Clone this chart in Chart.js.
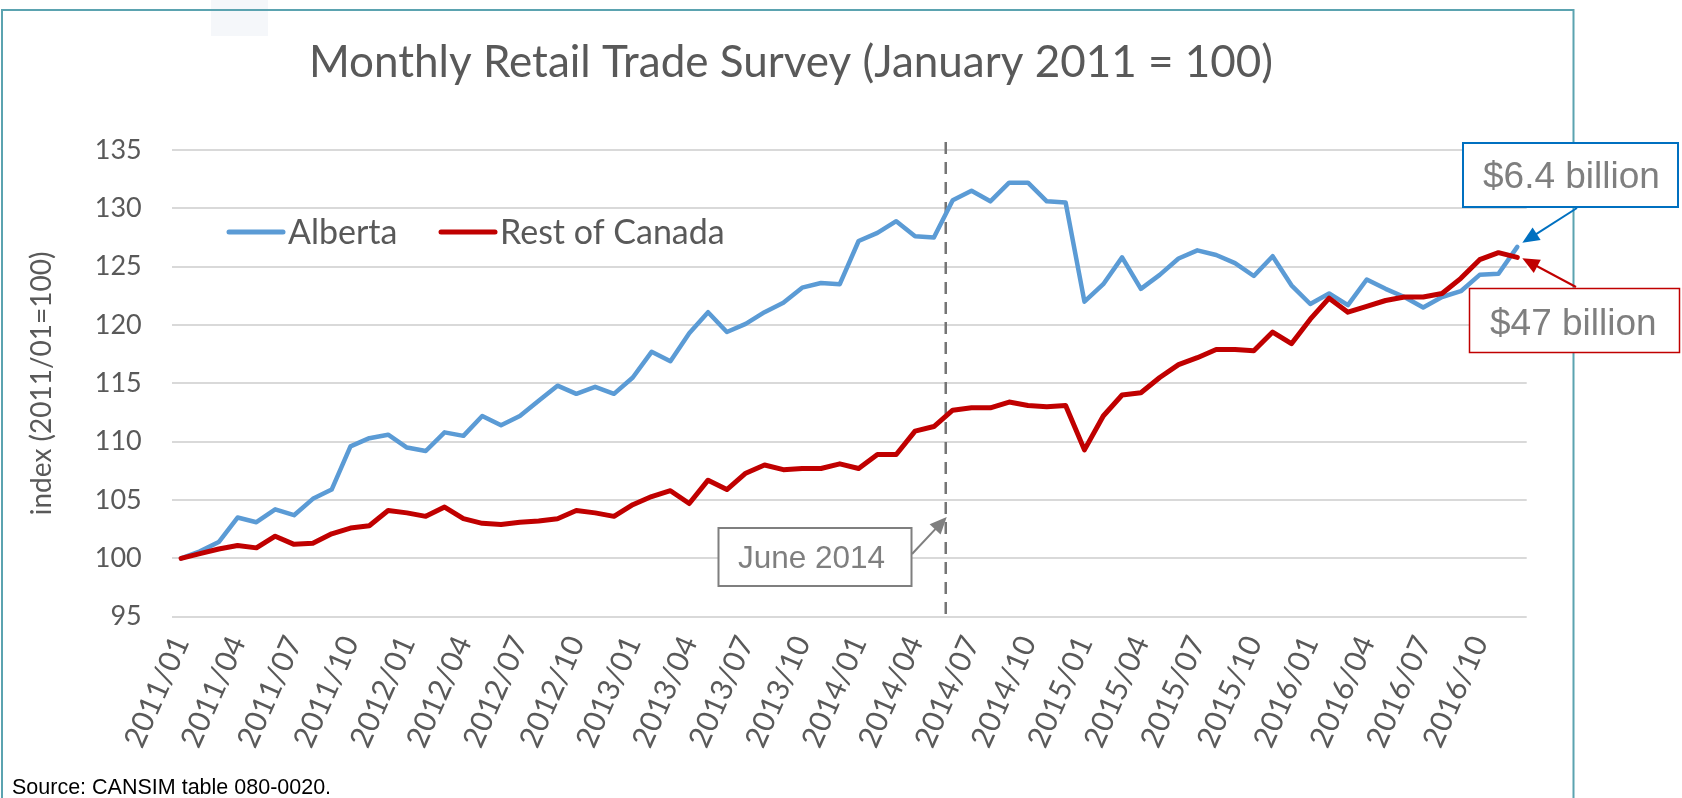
<!DOCTYPE html>
<html>
<head>
<meta charset="utf-8">
<title>Monthly Retail Trade Survey</title>
<script src="https://cdn.jsdelivr.net/npm/chart.js@4.4.1/dist/chart.umd.min.js"></script>
<style>
    html, body { margin: 0; padding: 0; background: #ffffff; }
    #wrap { width: 1682px; height: 798px; position: relative; }
</style>
</head>
<body>
<div id="wrap"><canvas id="retailChart" width="1682" height="798"></canvas></div>
<script>
// ===== DATA =====
const years = ["2011", "2012", "2013", "2014", "2015", "2016"];
const monthCodes = ["01", "02", "03", "04", "05", "06", "07", "08", "09", "10", "11", "12"];
const months = [];
years.forEach((y) => monthCodes.forEach((m) => months.push(y + "/" + m)));

// index, January 2011 = 100
const alberta = [
    100.0, 100.6, 101.4, 103.5, 103.1, 104.2, 103.7, 105.1, 105.9, 109.6, 110.3, 110.6,
    109.5, 109.2, 110.8, 110.5, 112.2, 111.4, 112.2, 113.5, 114.8, 114.1, 114.7, 114.1,
    115.5, 117.7, 116.9, 119.3, 121.1, 119.4, 120.1, 121.1, 121.9, 123.2, 123.6, 123.5,
    127.2, 127.9, 128.9, 127.6, 127.5, 130.7, 131.5, 130.6, 132.2, 132.2, 130.6, 130.5,
    122.0, 123.5, 125.8, 123.1, 124.3, 125.7, 126.4, 126.0, 125.3, 124.2, 125.9, 123.4,
    121.8, 122.7, 121.7, 123.9, 123.1, 122.4, 121.5, 122.4, 122.9, 124.3, 124.4, 126.7
];
const restOfCanada = [
    100.0, 100.4, 100.8, 101.1, 100.9, 101.9, 101.2, 101.3, 102.1, 102.6, 102.8, 104.1,
    103.9, 103.6, 104.4, 103.4, 103.0, 102.9, 103.1, 103.2, 103.4, 104.1, 103.9, 103.6,
    104.6, 105.3, 105.8, 104.7, 106.7, 105.9, 107.3, 108.0, 107.6, 107.7, 107.7, 108.1,
    107.7, 108.9, 108.9, 110.9, 111.3, 112.7, 112.9, 112.9, 113.4, 113.1, 113.0, 113.1,
    109.3, 112.2, 114.0, 114.2, 115.5, 116.6, 117.2, 117.9, 117.9, 117.8, 119.4, 118.4,
    120.5, 122.3, 121.1, 121.6, 122.1, 122.4, 122.4, 122.7, 124.0, 125.6, 126.2, 125.8
];
const yTicks = [95, 100, 105, 110, 115, 120, 125, 130, 135];
const seriesNames = ["Alberta", "Rest of Canada"];
const seriesColors = ["#5B9BD5", "#C00000"];

const TEXT_GREY = "#595959";
const NOTE_GREY = "#7F7F7F";
const JUNE_POS = 40.63; // hand-placed marker, between 2014/05 and 2014/06

// ===== HELPERS =====
function arrow(ctx, x1, y1, x2, y2, color) {
    const ang = Math.atan2(y2 - y1, x2 - x1);
    const head = 17, half = 7.5;
    ctx.save();
    ctx.strokeStyle = color;
    ctx.fillStyle = color;
    ctx.lineWidth = 2;
    ctx.beginPath();
    ctx.moveTo(x1, y1);
    ctx.lineTo(x2 - Math.cos(ang) * head * 0.8, y2 - Math.sin(ang) * head * 0.8);
    ctx.stroke();
    ctx.beginPath();
    ctx.moveTo(x2, y2);
    ctx.lineTo(x2 - Math.cos(ang) * head - Math.sin(ang) * half, y2 - Math.sin(ang) * head + Math.cos(ang) * half);
    ctx.lineTo(x2 - Math.cos(ang) * head + Math.sin(ang) * half, y2 - Math.sin(ang) * head - Math.cos(ang) * half);
    ctx.closePath();
    ctx.fill();
    ctx.restore();
}

function noteBox(ctx, x, y, w, h, border, lw, text, tx, ty, size) {
    ctx.save();
    ctx.fillStyle = "#ffffff";
    ctx.fillRect(x, y, w, h);
    ctx.strokeStyle = border;
    ctx.lineWidth = lw;
    ctx.strokeRect(x, y, w, h);
    ctx.fillStyle = NOTE_GREY;
    ctx.font = size + "px 'Liberation Sans', Arial, sans-serif";
    ctx.textAlign = "left";
    ctx.textBaseline = "alphabetic";
    ctx.fillText(text, tx, ty);
    ctx.restore();
}

function juneX(chart) {
    const xs = chart.scales.x;
    const a = xs.getPixelForValue(40);
    return a + (JUNE_POS - 40) * (xs.getPixelForValue(41) - a);
}

// ===== DECORATION PLUGIN =====
const decorPlugin = {
    id: "decor",
    beforeDraw(chart) {
        const ctx = chart.ctx;
        ctx.save();
        ctx.fillStyle = "#ffffff";
        ctx.fillRect(0, 0, chart.width, chart.height);
        // faint block top-left
        ctx.fillStyle = "#f5f7fa";
        ctx.fillRect(211, 0, 57, 36);
        // slide frame
        ctx.strokeStyle = "#5BA3B0";
        ctx.lineWidth = 2;
        ctx.beginPath();
        ctx.moveTo(2, 798);
        ctx.lineTo(2, 10);
        ctx.lineTo(1573.5, 10);
        ctx.lineTo(1573.5, 798);
        ctx.stroke();
        ctx.restore();
    },
    beforeDatasetsDraw(chart) {
        // June 2014 dashed marker
        const ctx = chart.ctx;
        const x = juneX(chart);
        ctx.save();
        ctx.strokeStyle = "#757575";
        ctx.lineWidth = 2.5;
        ctx.setLineDash([12, 8]);
        ctx.beginPath();
        ctx.moveTo(x, 142);
        ctx.lineTo(x, chart.chartArea.bottom);
        ctx.stroke();
        ctx.restore();
    },
    afterDraw(chart) {
        const ctx = chart.ctx;
        const xs = chart.scales.x;
        const ys = chart.scales.y;

        // title
        ctx.save();
        ctx.fillStyle = TEXT_GREY;
        ctx.font = "400 44px Lato, 'Open Sans', sans-serif";
        ctx.textAlign = "center";
        ctx.textBaseline = "alphabetic";
        ctx.fillText("Monthly Retail Trade Survey (January 2011 = 100)", 791, 77);

        // legend inside the plot
        const legendX = [229, 441];
        ctx.font = "34px Lato, 'Open Sans', sans-serif";
        ctx.textAlign = "left";
        seriesNames.forEach((name, i) => {
            ctx.strokeStyle = seriesColors[i];
            ctx.lineWidth = 5;
            ctx.lineCap = "round";
            ctx.beginPath();
            ctx.moveTo(legendX[i], 232);
            ctx.lineTo(legendX[i] + 54, 232);
            ctx.stroke();
            ctx.fillStyle = TEXT_GREY;
            ctx.fillText(name, legendX[i] + 59, 244);
        });

        // source
        ctx.fillStyle = "#000000";
        ctx.font = "21.5px 'Liberation Sans', Arial, sans-serif";
        ctx.fillText("Source: CANSIM table 080-0020.", 12, 794);
        ctx.restore();

        // June 2014 note
        noteBox(ctx, 718.5, 528, 193, 58, NOTE_GREY, 2, "June 2014", 738, 568, 31.5);
        arrow(ctx, 912, 554, juneX(chart) + 1, 517, NOTE_GREY);

        // end-of-series notes, pointing at the last points
        const last = months.length - 1;
        const lx = xs.getPixelForValue(last);
        noteBox(ctx, 1463, 143, 215, 64, "#0070C0", 2, "$6.4 billion", 1483, 188, 37);
        arrow(ctx, 1577, 208, lx + 5, ys.getPixelForValue(alberta[last]) - 4, "#0070C0");
        noteBox(ctx, 1469.5, 288.5, 210, 64, "#C00000", 1.5, "$47 billion", 1490, 335, 37);
        arrow(ctx, 1576, 287, lx + 5, ys.getPixelForValue(restOfCanada[last]) + 1, "#C00000");
    }
};

// ===== CHART =====
const ctx = document.getElementById("retailChart");
new Chart(ctx, {
    type: "line",
    data: {
        labels: months,
        datasets: [
            {
                label: seriesNames[0],
                data: alberta,
                borderColor: seriesColors[0],
                borderWidth: 4.5,
                order: 1,
            },
            {
                label: seriesNames[1],
                data: restOfCanada,
                borderColor: seriesColors[1],
                borderWidth: 5,
                order: 0,
            },
        ],
    },
    options: {
        responsive: false,
        animation: false,
        devicePixelRatio: 1,
        layout: { padding: { top: 150, right: 155.3, left: 0, bottom: 0 } },
        elements: {
            point: { radius: 0, hoverRadius: 0 },
            line: { tension: 0, fill: false, borderJoinStyle: "round", borderCapStyle: "round" },
        },
        plugins: {
            legend: { display: false },
            title: { display: false },
            tooltip: { enabled: false },
        },
        scales: {
            x: {
                type: "category",
                offset: true,
                grid: { display: false, drawTicks: false },
                border: { display: false },
                ticks: {
                    autoSkip: false,
                    minRotation: 66,
                    maxRotation: 66,
                    padding: 14,
                    color: TEXT_GREY,
                    font: { family: "Lato, 'Open Sans', sans-serif", size: 30 },
                    callback: function (value, index) {
                        return index % 3 === 0 ? months[index] : "";
                    },
                },
                afterFit: function (scale) {
                    scale.height = 181.3;
                },
            },
            y: {
                min: yTicks[0],
                max: yTicks[yTicks.length - 1],
                afterBuildTicks: function (scale) {
                    scale.ticks = yTicks.map((v) => ({ value: v }));
                },
                grid: { color: "#D9D9D9", lineWidth: 2, drawTicks: false },
                border: { display: false },
                ticks: {
                    padding: 30,
                    color: TEXT_GREY,
                    font: { family: "Lato, 'Open Sans', sans-serif", size: 27 },
                },
                title: {
                    display: true,
                    text: "index (2011/01=100)",
                    color: TEXT_GREY,
                    font: { family: "Lato, 'Open Sans', sans-serif", size: 28, lineHeight: 1.2 },
                    padding: { top: 25, bottom: 0 },
                },
                afterFit: function (scale) {
                    scale.width = 171.7;
                },
            },
        },
    },
    plugins: [decorPlugin],
});
</script>
</body>
</html>
